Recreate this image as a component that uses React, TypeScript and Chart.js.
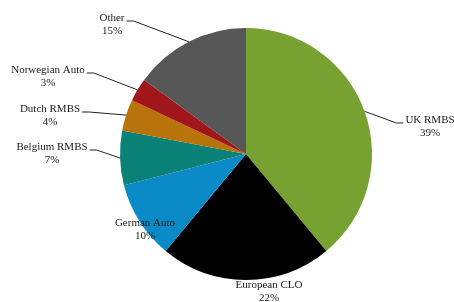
import React, { useEffect, useRef } from "react";
import { Chart, registerables } from "chart.js";

Chart.register(...registerables);

const categories = ["UK RMBS", "European CLO", "German Auto", "Belgium RMBS", "Dutch RMBS", "Norwegian Auto", "Other"];
const shares = [39, 22, 10, 7, 4, 3, 15];
const colors = ["#77A232", "#000000", "#0A8AC6", "#0A8278", "#B8740A", "#A0161A", "#575757"];

// label text centres (layout) and whether a leader line is drawn
const labelPos: [number, number][] = [
  [430, 120],
  [269, 285],
  [145, 223],
  [52, 147],
  [50, 109],
  [48, 70],
  [112, 18],
];
const hasLeader = [true, false, false, true, true, true, true];

const labelPlugin = {
  id: "outerLabels",
  afterDatasetsDraw(chart: any) {
    const ctx = chart.ctx;
    const meta = chart.getDatasetMeta(0);
    ctx.save();
    ctx.font = "11px 'Liberation Serif'";
    ctx.fillStyle = "#1a1a1a";
    ctx.textAlign = "center";
    ctx.textBaseline = "middle";
    meta.data.forEach((arc: any, i: number) => {
      const [lx, ly] = labelPos[i];
      const name = categories[i];
      const pct = shares[i] + "%";
      ctx.fillText(name, lx, ly);
      ctx.fillText(pct, lx, ly + 13);
      if (hasLeader[i]) {
        const mid = (arc.startAngle + arc.endAngle) / 2;
        const ex = arc.x + Math.cos(mid) * arc.outerRadius;
        const ey = arc.y + Math.sin(mid) * arc.outerRadius;
        const w = ctx.measureText(name).width;
        const right = ex > lx;
        const tx = right ? lx + w / 2 + 2 : lx - w / 2 - 2;
        const kx = right ? tx + 7 : tx - 7;
        const ty = ly + 3;
        ctx.strokeStyle = "#222222";
        ctx.lineWidth = 1;
        ctx.beginPath();
        ctx.moveTo(tx, ty);
        ctx.lineTo(kx, ty);
        ctx.lineTo(ex, ey);
        ctx.stroke();
      }
    });
    ctx.restore();
  },
};

export default function App() {
  const ref = useRef<HTMLCanvasElement>(null);
  useEffect(() => {
    const chart = new Chart(ref.current!, {
      type: "pie",
      data: {
        labels: categories,
        datasets: [
          {
            data: shares,
            backgroundColor: colors,
            borderWidth: 0,
          },
        ],
      },
      options: {
        animation: false,
        responsive: false,
        layout: { padding: { left: 120, right: 82, top: 28, bottom: 22 } },
        plugins: { legend: { display: false }, tooltip: { enabled: false } },
      },
      plugins: [labelPlugin],
    });
    return () => chart.destroy();
  }, []);
  return (
    <div style={{ position: "fixed", left: 0, top: 0, width: 454, height: 302, background: "#fff" }}>
      <canvas ref={ref} width={454} height={302} />
    </div>
  );
}
